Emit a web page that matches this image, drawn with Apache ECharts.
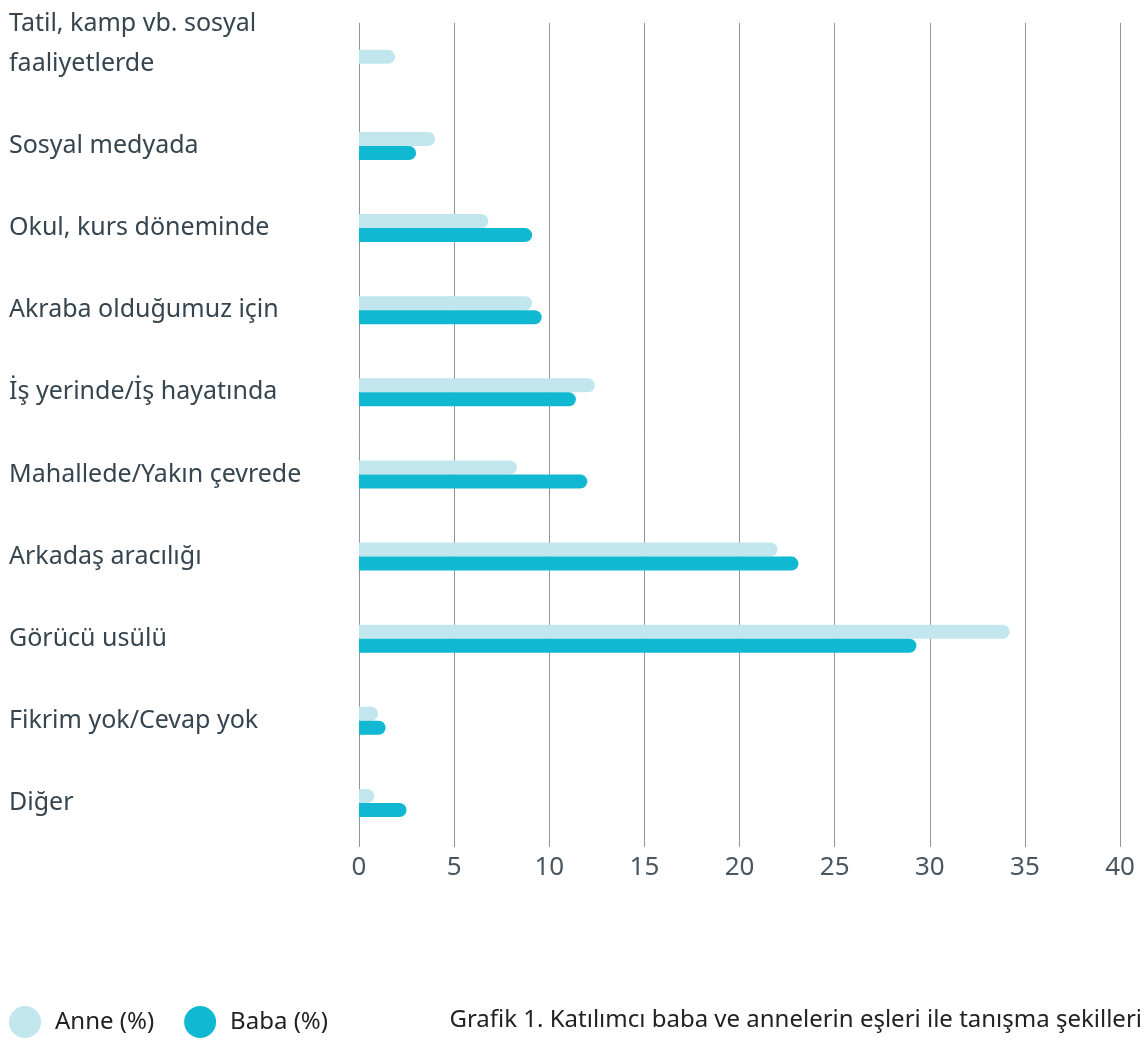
<!DOCTYPE html>
<html>
<head>
<meta charset="utf-8">
<script src="https://cdn.jsdelivr.net/npm/echarts@6/dist/echarts.min.js"></script>
<style>
  html, body { margin: 0; padding: 0; background: #fff; }
  #chart { width: 1146px; height: 1043px; }
</style>
</head>
<body>
<div id="chart"></div>
<script>
// kategoriler (yukaridan asagiya)
const categories = [
  "Tatil, kamp vb. sosyal\nfaaliyetlerde",
  "Sosyal medyada",
  "Okul, kurs döneminde",
  "Akraba olduğumuz için",
  "İş yerinde/İş hayatında",
  "Mahallede/Yakın çevrede",
  "Arkadaş aracılığı",
  "Görücü usülü",
  "Fikrim yok/Cevap yok",
  "Diğer"
];
const anneValues = [1.9, 4.0, 6.8, 9.1, 12.4, 8.3, 22.0, 34.2, 1.0, 0.8];
const babaValues = [0, 3.0, 9.1, 9.6, 11.4, 12.0, 23.1, 29.3, 1.4, 2.5];
const xTicks = { min: 0, max: 40, interval: 5 };

const fontFam = "'Noto Sans', sans-serif";
const chart = echarts.init(document.getElementById("chart"));

const option = {
  backgroundColor: "#fff",
  animation: false,
  title: {
    text: "Grafik 1. Katılımcı baba ve annelerin eşleri ile tanışma şekilleri",
    right: 4,
    top: 1008,
    padding: 0,
    textStyle: { fontFamily: fontFam, fontSize: 24, fontWeight: "normal", color: "#222" }
  },
  legend: {
    left: 9,
    top: 1006,
    padding: 0,
    icon: "circle",
    itemWidth: 32,
    itemHeight: 32,
    itemGap: 30,
    textStyle: { fontFamily: fontFam, fontSize: 24, color: "#222", padding: [0, 0, 0, 9] },
    data: ["Anne (%)", "Baba (%)"]
  },
  grid: { left: 359, right: 26, top: 20, height: 824 },
  xAxis: {
    type: "value",
    min: xTicks.min,
    max: xTicks.max,
    interval: xTicks.interval,
    axisLine: { show: false },
    axisTick: { show: true, length: 3, lineStyle: { color: "#8c979c" } },
    axisLabel: { margin: 11, fontFamily: fontFam, fontSize: 26, color: "#4a5660" },
    splitLine: { show: true, lineStyle: { color: "#8c979c", width: 1 } }
  },
  yAxis: {
    type: "category",
    inverse: true,
    data: categories,
    axisLine: { show: false },
    axisTick: { show: false },
    axisLabel: {
      interval: 0,
      align: "left",
      margin: 350,
      fontFamily: fontFam,
      fontSize: 25,
      lineHeight: 40,
      padding: [8, 0, 0, 0],
      color: "#36454f",
      // iki satirlik ilk etiket yukari kaysin diye sona bos satir
      formatter: (v, i) => (i === 0 ? v + "\n\u00a0" : v)
    }
  },
  series: [
    {
      name: "Anne (%)",
      type: "bar",
      data: anneValues,
      barWidth: 14,
      barGap: "0%",
      itemStyle: { color: "#c2e6ee", borderRadius: [0, 7, 7, 0] }
    },
    {
      name: "Baba (%)",
      type: "bar",
      data: babaValues,
      barWidth: 14,
      barGap: "0%",
      itemStyle: { color: "#10b9d1", borderRadius: [0, 7, 7, 0] }
    }
  ]
};
chart.setOption(option);
</script>
</body>
</html>
